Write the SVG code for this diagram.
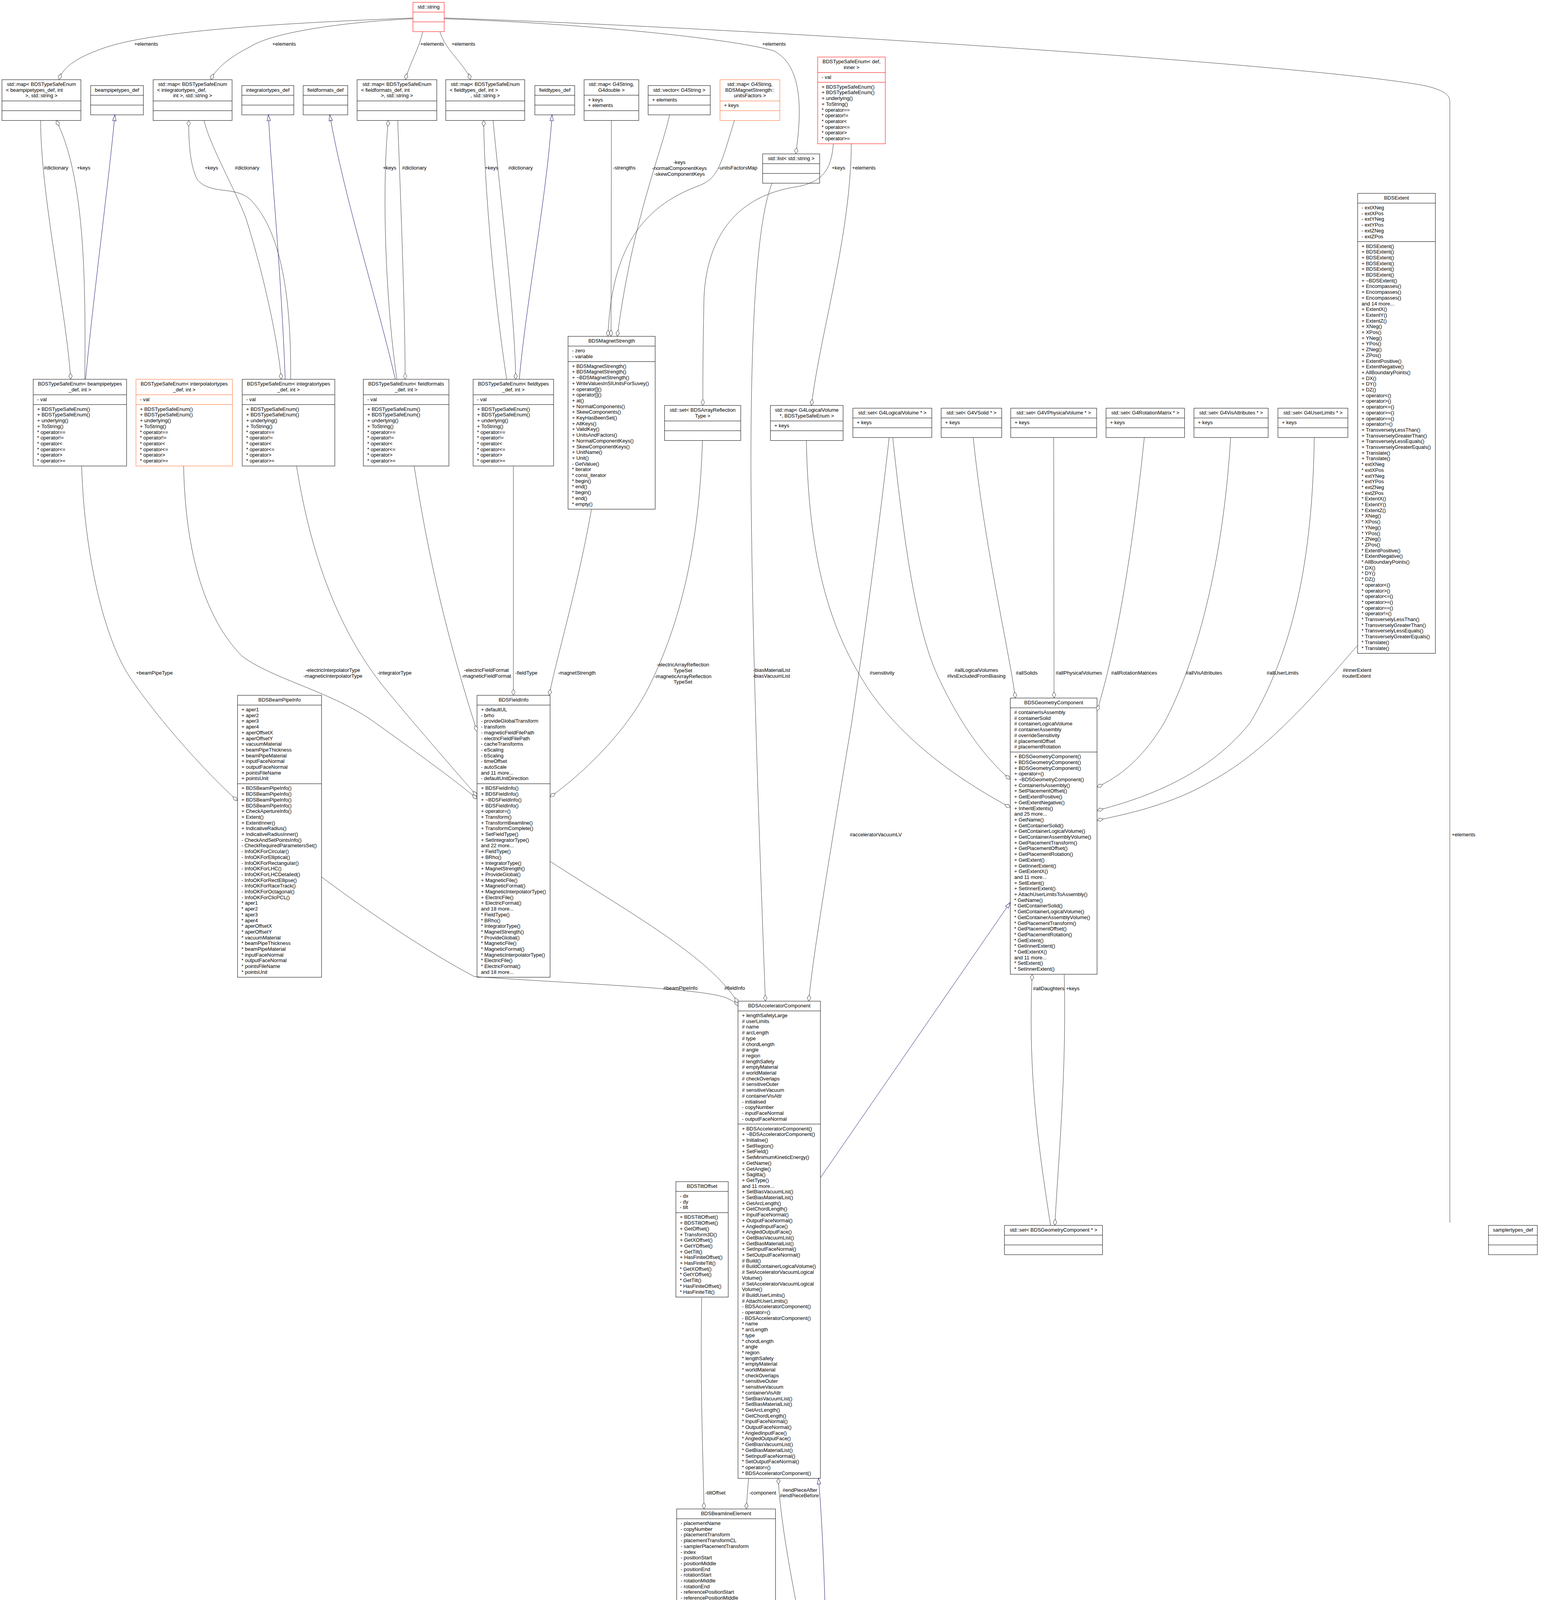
<svg xmlns="http://www.w3.org/2000/svg" width="3993" height="7761" viewBox="0 0 3993 7761">
<style>
text{font-family:"Liberation Sans",Arial,Helvetica,sans-serif;font-size:13px;fill:#000}
.c{text-anchor:middle}
.b{fill:#fff;stroke:#000;stroke-width:1}
.r{fill:#fff;stroke:#ff0000;stroke-width:1}
.o{fill:#fff;stroke:#ff6a2a;stroke-width:1}
.s{stroke:#000;stroke-width:1}
.sr{stroke:#ff0000;stroke-width:1}
.so{stroke:#ff6a2a;stroke-width:1}
.e{fill:none;stroke:#404040;stroke-width:1;marker-end:url(#d)}
.i{fill:none;stroke:#191970;stroke-width:1;marker-end:url(#t)}
.p{fill:none;stroke:#404040;stroke-width:1}
</style>
<defs>
<marker id="d" markerUnits="userSpaceOnUse" markerWidth="18" markerHeight="12" viewBox="-1 -1 18 12" refX="16" refY="5" orient="auto"><path d="M0,5 L8,0.5 L16,5 L8,9.5 Z" fill="#fff" stroke="#404040"/></marker>
<marker id="t" markerUnits="userSpaceOnUse" markerWidth="18" markerHeight="12" viewBox="-1 -1 18 12" refX="15" refY="5" orient="auto"><path d="M0,0.5 L15,5 L0,9.5 Z" fill="#fff" stroke="#191970"/></marker>
</defs>
<rect width="3993" height="7761" fill="#fff"/>

<g id="nodes">
<g id="std_string"><rect class="r" x="1057" y="6" width="80" height="75"/><line class="sr" x1="1057" y1="31" x2="1137" y2="31"/><line class="sr" x1="1057" y1="56" x2="1137" y2="56"/><text class="c" x="1097" y="22">std::string</text></g>

<g id="map_beampipetypes"><rect class="b" x="5" y="204" width="202" height="104.4"/><line class="s" x1="5" y1="258.4" x2="207" y2="258.4"/><line class="s" x1="5" y1="283.4" x2="207" y2="283.4"/><text class="c" x="106" y="220">std::map&lt; BDSTypeSafeEnum</text><text x="15" y="234.7">&lt; beampipetypes_def, int</text><text class="c" x="106" y="249.4">&gt;, std::string &gt;</text></g>
<g id="beampipetypes_def"><rect class="b" x="232" y="219" width="135" height="75"/><line class="s" x1="232" y1="244" x2="367" y2="244"/><line class="s" x1="232" y1="269" x2="367" y2="269"/><text class="c" x="299.5" y="235">beampipetypes_def</text></g>
<g id="map_integratortypes"><rect class="b" x="392" y="204" width="202" height="104.4"/><line class="s" x1="392" y1="258.4" x2="594" y2="258.4"/><line class="s" x1="392" y1="283.4" x2="594" y2="283.4"/><text class="c" x="493" y="220">std::map&lt; BDSTypeSafeEnum</text><text x="402" y="234.7">&lt; integratortypes_def,</text><text class="c" x="493" y="249.4">int &gt;, std::string &gt;</text></g>
<g id="integratortypes_def"><rect class="b" x="619" y="219" width="133" height="75"/><line class="s" x1="619" y1="244" x2="752" y2="244"/><line class="s" x1="619" y1="269" x2="752" y2="269"/><text class="c" x="685.5" y="235">integratortypes_def</text></g>
<g id="fieldformats_def"><rect class="b" x="776" y="219" width="114" height="75"/><line class="s" x1="776" y1="244" x2="890" y2="244"/><line class="s" x1="776" y1="269" x2="890" y2="269"/><text class="c" x="833" y="235">fieldformats_def</text></g>
<g id="map_fieldformats"><rect class="b" x="914" y="204" width="204" height="104.4"/><line class="s" x1="914" y1="258.4" x2="1118" y2="258.4"/><line class="s" x1="914" y1="283.4" x2="1118" y2="283.4"/><text class="c" x="1016" y="220">std::map&lt; BDSTypeSafeEnum</text><text x="924" y="234.7">&lt; fieldformats_def, int</text><text class="c" x="1016" y="249.4">&gt;, std::string &gt;</text></g>
<g id="map_fieldtypes"><rect class="b" x="1141" y="204" width="202" height="104.4"/><line class="s" x1="1141" y1="258.4" x2="1343" y2="258.4"/><line class="s" x1="1141" y1="283.4" x2="1343" y2="283.4"/><text class="c" x="1242" y="220">std::map&lt; BDSTypeSafeEnum</text><text x="1151" y="234.7">&lt; fieldtypes_def, int &gt;</text><text class="c" x="1242" y="249.4">, std::string &gt;</text></g>
<g id="fieldtypes_def"><rect class="b" x="1369" y="219" width="102" height="75"/><line class="s" x1="1369" y1="244" x2="1471" y2="244"/><line class="s" x1="1369" y1="269" x2="1471" y2="269"/><text class="c" x="1420" y="235">fieldtypes_def</text></g>
<g id="map_G4String_G4double"><rect class="b" x="1495" y="204" width="140" height="104.4"/><line class="s" x1="1495" y1="243.7" x2="1635" y2="243.7"/><line class="s" x1="1495" y1="283.4" x2="1635" y2="283.4"/><text class="c" x="1565" y="220">std::map&lt; G4String,</text><text class="c" x="1565" y="234.7">G4double &gt;</text><text x="1505" y="259.7">+ keys<tspan x="1505" dy="14.7">+ elements</tspan></text></g>
<g id="vector_G4String"><rect class="b" x="1659" y="219" width="159" height="75"/><line class="s" x1="1659" y1="244" x2="1818" y2="244"/><line class="s" x1="1659" y1="269" x2="1818" y2="269"/><text class="c" x="1738.5" y="235">std::vector&lt; G4String &gt;</text><text x="1669" y="260">+ elements</text></g>
<g id="map_G4String_unitsFactors"><rect class="o" x="1843" y="204" width="153" height="104.4"/><line class="so" x1="1843" y1="258.4" x2="1996" y2="258.4"/><line class="so" x1="1843" y1="283.4" x2="1996" y2="283.4"/><text class="c" x="1919.5" y="220">std::map&lt; G4String,</text><text class="c" x="1919.5" y="234.7">BDSMagnetStrength::</text><text class="c" x="1919.5" y="249.4">unitsFactors &gt;</text><text x="1853" y="274.4">+ keys</text></g>
<g id="BDSTypeSafeEnum_def_inner"><rect class="r" x="2093" y="146" width="173" height="222"/><line class="sr" x1="2093" y1="185.7" x2="2266" y2="185.7"/><line class="sr" x1="2093" y1="210.7" x2="2266" y2="210.7"/><text class="c" x="2179.5" y="162">BDSTypeSafeEnum&lt; def,</text><text class="c" x="2179.5" y="176.7">inner &gt;</text><text x="2103" y="201.7">- val</text><text x="2103" y="226.7">+ BDSTypeSafeEnum()<tspan x="2103" dy="14.7">+ BDSTypeSafeEnum()</tspan><tspan x="2103" dy="14.7">+ underlying()</tspan><tspan x="2103" dy="14.7">+ ToString()</tspan><tspan x="2103" dy="14.7">* operator==</tspan><tspan x="2103" dy="14.7">* operator!=</tspan><tspan x="2103" dy="14.7">* operator&lt;</tspan><tspan x="2103" dy="14.7">* operator&lt;=</tspan><tspan x="2103" dy="14.7">* operator&gt;</tspan><tspan x="2103" dy="14.7">* operator&gt;=</tspan></text></g>
<g id="list_std_string"><rect class="b" x="1952" y="394" width="146" height="75"/><line class="s" x1="1952" y1="419" x2="2098" y2="419"/><line class="s" x1="1952" y1="444" x2="2098" y2="444"/><text class="c" x="2025" y="410">std::list&lt; std::string &gt;</text></g>

<g id="BDSExtent"><rect class="b" x="3475" y="495" width="199" height="1177.5"/><line class="s" x1="3475" y1="520" x2="3674" y2="520"/><line class="s" x1="3475" y1="618.5" x2="3674" y2="618.5"/><text class="c" x="3574.5" y="511">BDSExtent</text><text x="3485" y="536">- extXNeg<tspan x="3485" dy="14.7">- extXPos</tspan><tspan x="3485" dy="14.7">- extYNeg</tspan><tspan x="3485" dy="14.7">- extYPos</tspan><tspan x="3485" dy="14.7">- extZNeg</tspan><tspan x="3485" dy="14.7">- extZPos</tspan></text><text x="3485" y="634.5">+ BDSExtent()<tspan x="3485" dy="14.7">+ BDSExtent()</tspan><tspan x="3485" dy="14.7">+ BDSExtent()</tspan><tspan x="3485" dy="14.7">+ BDSExtent()</tspan><tspan x="3485" dy="14.7">+ BDSExtent()</tspan><tspan x="3485" dy="14.7">+ BDSExtent()</tspan><tspan x="3485" dy="14.7">+ ~BDSExtent()</tspan><tspan x="3485" dy="14.7">+ Encompasses()</tspan><tspan x="3485" dy="14.7">+ Encompasses()</tspan><tspan x="3485" dy="14.7">+ Encompasses()</tspan><tspan x="3485" dy="14.7">and 14 more...</tspan><tspan x="3485" dy="14.7">+ ExtentX()</tspan><tspan x="3485" dy="14.7">+ ExtentY()</tspan><tspan x="3485" dy="14.7">+ ExtentZ()</tspan><tspan x="3485" dy="14.7">+ XNeg()</tspan><tspan x="3485" dy="14.7">+ XPos()</tspan><tspan x="3485" dy="14.7">+ YNeg()</tspan><tspan x="3485" dy="14.7">+ YPos()</tspan><tspan x="3485" dy="14.7">+ ZNeg()</tspan><tspan x="3485" dy="14.7">+ ZPos()</tspan><tspan x="3485" dy="14.7">+ ExtentPositive()</tspan><tspan x="3485" dy="14.7">+ ExtentNegative()</tspan><tspan x="3485" dy="14.7">+ AllBoundaryPoints()</tspan><tspan x="3485" dy="14.7">+ DX()</tspan><tspan x="3485" dy="14.7">+ DY()</tspan><tspan x="3485" dy="14.7">+ DZ()</tspan><tspan x="3485" dy="14.7">+ operator&lt;()</tspan><tspan x="3485" dy="14.7">+ operator&gt;()</tspan><tspan x="3485" dy="14.7">+ operator&lt;=()</tspan><tspan x="3485" dy="14.7">+ operator&gt;=()</tspan><tspan x="3485" dy="14.7">+ operator==()</tspan><tspan x="3485" dy="14.7">+ operator!=()</tspan><tspan x="3485" dy="14.7">+ TransverselyLessThan()</tspan><tspan x="3485" dy="14.7">+ TransverselyGreaterThan()</tspan><tspan x="3485" dy="14.7">+ TransverselyLessEquals()</tspan><tspan x="3485" dy="14.7">+ TransverselyGreaterEquals()</tspan><tspan x="3485" dy="14.7">+ Translate()</tspan><tspan x="3485" dy="14.7">+ Translate()</tspan><tspan x="3485" dy="14.7">* extXNeg</tspan><tspan x="3485" dy="14.7">* extXPos</tspan><tspan x="3485" dy="14.7">* extYNeg</tspan><tspan x="3485" dy="14.7">* extYPos</tspan><tspan x="3485" dy="14.7">* extZNeg</tspan><tspan x="3485" dy="14.7">* extZPos</tspan><tspan x="3485" dy="14.7">* ExtentX()</tspan><tspan x="3485" dy="14.7">* ExtentY()</tspan><tspan x="3485" dy="14.7">* ExtentZ()</tspan><tspan x="3485" dy="14.7">* XNeg()</tspan><tspan x="3485" dy="14.7">* XPos()</tspan><tspan x="3485" dy="14.7">* YNeg()</tspan><tspan x="3485" dy="14.7">* YPos()</tspan><tspan x="3485" dy="14.7">* ZNeg()</tspan><tspan x="3485" dy="14.7">* ZPos()</tspan><tspan x="3485" dy="14.7">* ExtentPositive()</tspan><tspan x="3485" dy="14.7">* ExtentNegative()</tspan><tspan x="3485" dy="14.7">* AllBoundaryPoints()</tspan><tspan x="3485" dy="14.7">* DX()</tspan><tspan x="3485" dy="14.7">* DY()</tspan><tspan x="3485" dy="14.7">* DZ()</tspan><tspan x="3485" dy="14.7">* operator&lt;()</tspan><tspan x="3485" dy="14.7">* operator&gt;()</tspan><tspan x="3485" dy="14.7">* operator&lt;=()</tspan><tspan x="3485" dy="14.7">* operator&gt;=()</tspan><tspan x="3485" dy="14.7">* operator==()</tspan><tspan x="3485" dy="14.7">* operator!=()</tspan><tspan x="3485" dy="14.7">* TransverselyLessThan()</tspan><tspan x="3485" dy="14.7">* TransverselyGreaterThan()</tspan><tspan x="3485" dy="14.7">* TransverselyLessEquals()</tspan><tspan x="3485" dy="14.7">* TransverselyGreaterEquals()</tspan><tspan x="3485" dy="14.7">* Translate()</tspan><tspan x="3485" dy="14.7">* Translate()</tspan></text></g>

<g id="TSE_beampipetypes"><rect class="b" x="85" y="971" width="239" height="222"/><line class="s" x1="85" y1="1010.7" x2="324" y2="1010.7"/><line class="s" x1="85" y1="1035.7" x2="324" y2="1035.7"/><text class="c" x="204.5" y="987">BDSTypeSafeEnum&lt; beampipetypes</text><text class="c" x="204.5" y="1001.7">_def, int &gt;</text><text x="95" y="1026.7">- val</text><text x="95" y="1051.7">+ BDSTypeSafeEnum()<tspan x="95" dy="14.7">+ BDSTypeSafeEnum()</tspan><tspan x="95" dy="14.7">+ underlying()</tspan><tspan x="95" dy="14.7">+ ToString()</tspan><tspan x="95" dy="14.7">* operator==</tspan><tspan x="95" dy="14.7">* operator!=</tspan><tspan x="95" dy="14.7">* operator&lt;</tspan><tspan x="95" dy="14.7">* operator&lt;=</tspan><tspan x="95" dy="14.7">* operator&gt;</tspan><tspan x="95" dy="14.7">* operator&gt;=</tspan></text></g>
<g id="TSE_interpolatortypes"><rect class="o" x="348" y="971" width="247" height="222"/><line class="so" x1="348" y1="1010.7" x2="595" y2="1010.7"/><line class="so" x1="348" y1="1035.7" x2="595" y2="1035.7"/><text class="c" x="471.5" y="987">BDSTypeSafeEnum&lt; interpolatortypes</text><text class="c" x="471.5" y="1001.7">_def, int &gt;</text><text x="358" y="1026.7">- val</text><text x="358" y="1051.7">+ BDSTypeSafeEnum()<tspan x="358" dy="14.7">+ BDSTypeSafeEnum()</tspan><tspan x="358" dy="14.7">+ underlying()</tspan><tspan x="358" dy="14.7">+ ToString()</tspan><tspan x="358" dy="14.7">* operator==</tspan><tspan x="358" dy="14.7">* operator!=</tspan><tspan x="358" dy="14.7">* operator&lt;</tspan><tspan x="358" dy="14.7">* operator&lt;=</tspan><tspan x="358" dy="14.7">* operator&gt;</tspan><tspan x="358" dy="14.7">* operator&gt;=</tspan></text></g>
<g id="TSE_integratortypes"><rect class="b" x="620" y="971" width="237" height="222"/><line class="s" x1="620" y1="1010.7" x2="857" y2="1010.7"/><line class="s" x1="620" y1="1035.7" x2="857" y2="1035.7"/><text class="c" x="738.5" y="987">BDSTypeSafeEnum&lt; integratortypes</text><text class="c" x="738.5" y="1001.7">_def, int &gt;</text><text x="630" y="1026.7">- val</text><text x="630" y="1051.7">+ BDSTypeSafeEnum()<tspan x="630" dy="14.7">+ BDSTypeSafeEnum()</tspan><tspan x="630" dy="14.7">+ underlying()</tspan><tspan x="630" dy="14.7">+ ToString()</tspan><tspan x="630" dy="14.7">* operator==</tspan><tspan x="630" dy="14.7">* operator!=</tspan><tspan x="630" dy="14.7">* operator&lt;</tspan><tspan x="630" dy="14.7">* operator&lt;=</tspan><tspan x="630" dy="14.7">* operator&gt;</tspan><tspan x="630" dy="14.7">* operator&gt;=</tspan></text></g>
<g id="TSE_fieldformats"><rect class="b" x="930" y="971" width="219" height="222"/><line class="s" x1="930" y1="1010.7" x2="1149" y2="1010.7"/><line class="s" x1="930" y1="1035.7" x2="1149" y2="1035.7"/><text class="c" x="1039.5" y="987">BDSTypeSafeEnum&lt; fieldformats</text><text class="c" x="1039.5" y="1001.7">_def, int &gt;</text><text x="940" y="1026.7">- val</text><text x="940" y="1051.7">+ BDSTypeSafeEnum()<tspan x="940" dy="14.7">+ BDSTypeSafeEnum()</tspan><tspan x="940" dy="14.7">+ underlying()</tspan><tspan x="940" dy="14.7">+ ToString()</tspan><tspan x="940" dy="14.7">* operator==</tspan><tspan x="940" dy="14.7">* operator!=</tspan><tspan x="940" dy="14.7">* operator&lt;</tspan><tspan x="940" dy="14.7">* operator&lt;=</tspan><tspan x="940" dy="14.7">* operator&gt;</tspan><tspan x="940" dy="14.7">* operator&gt;=</tspan></text></g>
<g id="TSE_fieldtypes"><rect class="b" x="1211" y="971" width="206" height="222"/><line class="s" x1="1211" y1="1010.7" x2="1417" y2="1010.7"/><line class="s" x1="1211" y1="1035.7" x2="1417" y2="1035.7"/><text class="c" x="1314" y="987">BDSTypeSafeEnum&lt; fieldtypes</text><text class="c" x="1314" y="1001.7">_def, int &gt;</text><text x="1221" y="1026.7">- val</text><text x="1221" y="1051.7">+ BDSTypeSafeEnum()<tspan x="1221" dy="14.7">+ BDSTypeSafeEnum()</tspan><tspan x="1221" dy="14.7">+ underlying()</tspan><tspan x="1221" dy="14.7">+ ToString()</tspan><tspan x="1221" dy="14.7">* operator==</tspan><tspan x="1221" dy="14.7">* operator!=</tspan><tspan x="1221" dy="14.7">* operator&lt;</tspan><tspan x="1221" dy="14.7">* operator&lt;=</tspan><tspan x="1221" dy="14.7">* operator&gt;</tspan><tspan x="1221" dy="14.7">* operator&gt;=</tspan></text></g>

<g id="BDSMagnetStrength"><rect class="b" x="1454" y="861" width="223" height="442.5"/><line class="s" x1="1454" y1="886" x2="1677" y2="886"/><line class="s" x1="1454" y1="925.7" x2="1677" y2="925.7"/><text class="c" x="1565.5" y="877">BDSMagnetStrength</text><text x="1464" y="902">- zero<tspan x="1464" dy="14.7">- variable</tspan></text><text x="1464" y="941.7">+ BDSMagnetStrength()<tspan x="1464" dy="14.7">+ BDSMagnetStrength()</tspan><tspan x="1464" dy="14.7">+ ~BDSMagnetStrength()</tspan><tspan x="1464" dy="14.7">+ WriteValuesInSIUnitsForSuvey()</tspan><tspan x="1464" dy="14.7">+ operator[]()</tspan><tspan x="1464" dy="14.7">+ operator[]()</tspan><tspan x="1464" dy="14.7">+ at()</tspan><tspan x="1464" dy="14.7">+ NormalComponents()</tspan><tspan x="1464" dy="14.7">+ SkewComponents()</tspan><tspan x="1464" dy="14.7">+ KeyHasBeenSet()</tspan><tspan x="1464" dy="14.7">+ AllKeys()</tspan><tspan x="1464" dy="14.7">+ ValidKey()</tspan><tspan x="1464" dy="14.7">+ UnitsAndFactors()</tspan><tspan x="1464" dy="14.7">+ NormalComponentKeys()</tspan><tspan x="1464" dy="14.7">+ SkewComponentKeys()</tspan><tspan x="1464" dy="14.7">+ UnitName()</tspan><tspan x="1464" dy="14.7">+ Unit()</tspan><tspan x="1464" dy="14.7">- GetValue()</tspan><tspan x="1464" dy="14.7">* iterator</tspan><tspan x="1464" dy="14.7">* const_iterator</tspan><tspan x="1464" dy="14.7">* begin()</tspan><tspan x="1464" dy="14.7">* end()</tspan><tspan x="1464" dy="14.7">* begin()</tspan><tspan x="1464" dy="14.7">* end()</tspan><tspan x="1464" dy="14.7">* empty()</tspan></text></g>
<g id="set_BDSArrayReflectionType"><rect class="b" x="1701" y="1038" width="195" height="89.7"/><line class="s" x1="1701" y1="1077.7" x2="1896" y2="1077.7"/><line class="s" x1="1701" y1="1102.7" x2="1896" y2="1102.7"/><text class="c" x="1798.5" y="1054">std::set&lt; BDSArrayReflection</text><text class="c" x="1798.5" y="1068.7">Type &gt;</text></g>
<g id="map_G4LogicalVolume_BDSTypeSafeEnum"><rect class="b" x="1972" y="1038" width="186" height="89.7"/><line class="s" x1="1972" y1="1077.7" x2="2158" y2="1077.7"/><line class="s" x1="1972" y1="1102.7" x2="2158" y2="1102.7"/><text class="c" x="2065" y="1054">std::map&lt; G4LogicalVolume</text><text class="c" x="2065" y="1068.7">*, BDSTypeSafeEnum &gt;</text><text x="1982" y="1093.7">+ keys</text></g>
<g id="set_G4LogicalVolume"><rect class="b" x="2183" y="1045" width="202" height="75"/><line class="s" x1="2183" y1="1070" x2="2385" y2="1070"/><line class="s" x1="2183" y1="1095" x2="2385" y2="1095"/><text class="c" x="2284" y="1061">std::set&lt; G4LogicalVolume * &gt;</text><text x="2193" y="1086">+ keys</text></g>
<g id="set_G4VSolid"><rect class="b" x="2409" y="1045" width="155" height="75"/><line class="s" x1="2409" y1="1070" x2="2564" y2="1070"/><line class="s" x1="2409" y1="1095" x2="2564" y2="1095"/><text class="c" x="2486.5" y="1061">std::set&lt; G4VSolid * &gt;</text><text x="2419" y="1086">+ keys</text></g>
<g id="set_G4VPhysicalVolume"><rect class="b" x="2587" y="1045" width="220" height="75"/><line class="s" x1="2587" y1="1070" x2="2807" y2="1070"/><line class="s" x1="2587" y1="1095" x2="2807" y2="1095"/><text class="c" x="2697" y="1061">std::set&lt; G4VPhysicalVolume * &gt;</text><text x="2597" y="1086">+ keys</text></g>
<g id="set_G4RotationMatrix"><rect class="b" x="2831" y="1045" width="201" height="75"/><line class="s" x1="2831" y1="1070" x2="3032" y2="1070"/><line class="s" x1="2831" y1="1095" x2="3032" y2="1095"/><text class="c" x="2931.5" y="1061">std::set&lt; G4RotationMatrix * &gt;</text><text x="2841" y="1086">+ keys</text></g>
<g id="set_G4VisAttributes"><rect class="b" x="3056" y="1045" width="190" height="75"/><line class="s" x1="3056" y1="1070" x2="3246" y2="1070"/><line class="s" x1="3056" y1="1095" x2="3246" y2="1095"/><text class="c" x="3151" y="1061">std::set&lt; G4VisAttributes * &gt;</text><text x="3066" y="1086">+ keys</text></g>
<g id="set_G4UserLimits"><rect class="b" x="3271" y="1045" width="179" height="75"/><line class="s" x1="3271" y1="1070" x2="3450" y2="1070"/><line class="s" x1="3271" y1="1095" x2="3450" y2="1095"/><text class="c" x="3360.5" y="1061">std::set&lt; G4UserLimits * &gt;</text><text x="3281" y="1086">+ keys</text></g>

<g id="BDSBeamPipeInfo"><rect class="b" x="608" y="1780" width="215" height="721.8"/><line class="s" x1="608" y1="1805" x2="823" y2="1805"/><line class="s" x1="608" y1="2006.4" x2="823" y2="2006.4"/><text class="c" x="715.5" y="1796">BDSBeamPipeInfo</text><text x="618" y="1821">+ aper1<tspan x="618" dy="14.7">+ aper2</tspan><tspan x="618" dy="14.7">+ aper3</tspan><tspan x="618" dy="14.7">+ aper4</tspan><tspan x="618" dy="14.7">+ aperOffsetX</tspan><tspan x="618" dy="14.7">+ aperOffsetY</tspan><tspan x="618" dy="14.7">+ vacuumMaterial</tspan><tspan x="618" dy="14.7">+ beamPipeThickness</tspan><tspan x="618" dy="14.7">+ beamPipeMaterial</tspan><tspan x="618" dy="14.7">+ inputFaceNormal</tspan><tspan x="618" dy="14.7">+ outputFaceNormal</tspan><tspan x="618" dy="14.7">+ pointsFileName</tspan><tspan x="618" dy="14.7">+ pointsUnit</tspan></text><text x="618" y="2022.4">+ BDSBeamPipeInfo()<tspan x="618" dy="14.7">+ BDSBeamPipeInfo()</tspan><tspan x="618" dy="14.7">+ BDSBeamPipeInfo()</tspan><tspan x="618" dy="14.7">+ BDSBeamPipeInfo()</tspan><tspan x="618" dy="14.7">+ CheckApertureInfo()</tspan><tspan x="618" dy="14.7">+ Extent()</tspan><tspan x="618" dy="14.7">+ ExtentInner()</tspan><tspan x="618" dy="14.7">+ IndicativeRadius()</tspan><tspan x="618" dy="14.7">+ IndicativeRadiusInner()</tspan><tspan x="618" dy="14.7">- CheckAndSetPointsInfo()</tspan><tspan x="618" dy="14.7">- CheckRequiredParametersSet()</tspan><tspan x="618" dy="14.7">- InfoOKForCircular()</tspan><tspan x="618" dy="14.7">- InfoOKForElliptical()</tspan><tspan x="618" dy="14.7">- InfoOKForRectangular()</tspan><tspan x="618" dy="14.7">- InfoOKForLHC()</tspan><tspan x="618" dy="14.7">- InfoOKForLHCDetailed()</tspan><tspan x="618" dy="14.7">- InfoOKForRectEllipse()</tspan><tspan x="618" dy="14.7">- InfoOKForRaceTrack()</tspan><tspan x="618" dy="14.7">- InfoOKForOctagonal()</tspan><tspan x="618" dy="14.7">- InfoOKForClicPCL()</tspan><tspan x="618" dy="14.7">* aper1</tspan><tspan x="618" dy="14.7">* aper2</tspan><tspan x="618" dy="14.7">* aper3</tspan><tspan x="618" dy="14.7">* aper4</tspan><tspan x="618" dy="14.7">* aperOffsetX</tspan><tspan x="618" dy="14.7">* aperOffsetY</tspan><tspan x="618" dy="14.7">* vacuumMaterial</tspan><tspan x="618" dy="14.7">* beamPipeThickness</tspan><tspan x="618" dy="14.7">* beamPipeMaterial</tspan><tspan x="618" dy="14.7">* inputFaceNormal</tspan><tspan x="618" dy="14.7">* outputFaceNormal</tspan><tspan x="618" dy="14.7">* pointsFileName</tspan><tspan x="618" dy="14.7">* pointsUnit</tspan></text></g>

<g id="BDSFieldInfo"><rect class="b" x="1221" y="1780" width="187" height="721.8"/><line class="s" x1="1221" y1="1805" x2="1408" y2="1805"/><line class="s" x1="1221" y1="2006.4" x2="1408" y2="2006.4"/><text class="c" x="1314.5" y="1796">BDSFieldInfo</text><text x="1231" y="1821">+ defaultUL<tspan x="1231" dy="14.7">- brho</tspan><tspan x="1231" dy="14.7">- provideGlobalTransform</tspan><tspan x="1231" dy="14.7">- transform</tspan><tspan x="1231" dy="14.7">- magneticFieldFilePath</tspan><tspan x="1231" dy="14.7">- electricFieldFilePath</tspan><tspan x="1231" dy="14.7">- cacheTransforms</tspan><tspan x="1231" dy="14.7">- eScaling</tspan><tspan x="1231" dy="14.7">- bScaling</tspan><tspan x="1231" dy="14.7">- timeOffset</tspan><tspan x="1231" dy="14.7">- autoScale</tspan><tspan x="1231" dy="14.7">and 11 more...</tspan><tspan x="1231" dy="14.7">- defaultUnitDirection</tspan></text><text x="1231" y="2022.4">+ BDSFieldInfo()<tspan x="1231" dy="14.7">+ BDSFieldInfo()</tspan><tspan x="1231" dy="14.7">+ ~BDSFieldInfo()</tspan><tspan x="1231" dy="14.7">+ BDSFieldInfo()</tspan><tspan x="1231" dy="14.7">+ operator=()</tspan><tspan x="1231" dy="14.7">+ Transform()</tspan><tspan x="1231" dy="14.7">+ TransformBeamline()</tspan><tspan x="1231" dy="14.7">+ TransformComplete()</tspan><tspan x="1231" dy="14.7">+ SetFieldType()</tspan><tspan x="1231" dy="14.7">+ SetIntegratorType()</tspan><tspan x="1231" dy="14.7">and 22 more...</tspan><tspan x="1231" dy="14.7">+ FieldType()</tspan><tspan x="1231" dy="14.7">+ BRho()</tspan><tspan x="1231" dy="14.7">+ IntegratorType()</tspan><tspan x="1231" dy="14.7">+ MagnetStrength()</tspan><tspan x="1231" dy="14.7">+ ProvideGlobal()</tspan><tspan x="1231" dy="14.7">+ MagneticFile()</tspan><tspan x="1231" dy="14.7">+ MagneticFormat()</tspan><tspan x="1231" dy="14.7">+ MagneticInterpolatorType()</tspan><tspan x="1231" dy="14.7">+ ElectricFile()</tspan><tspan x="1231" dy="14.7">+ ElectricFormat()</tspan><tspan x="1231" dy="14.7">and 18 more...</tspan><tspan x="1231" dy="14.7">* FieldType()</tspan><tspan x="1231" dy="14.7">* BRho()</tspan><tspan x="1231" dy="14.7">* IntegratorType()</tspan><tspan x="1231" dy="14.7">* MagnetStrength()</tspan><tspan x="1231" dy="14.7">* ProvideGlobal()</tspan><tspan x="1231" dy="14.7">* MagneticFile()</tspan><tspan x="1231" dy="14.7">* MagneticFormat()</tspan><tspan x="1231" dy="14.7">* MagneticInterpolatorType()</tspan><tspan x="1231" dy="14.7">* ElectricFile()</tspan><tspan x="1231" dy="14.7">* ElectricFormat()</tspan><tspan x="1231" dy="14.7">and 18 more...</tspan></text></g>

<g id="BDSGeometryComponent"><rect class="b" x="2586" y="1787" width="222" height="707.1"/><line class="s" x1="2586" y1="1812" x2="2808" y2="1812"/><line class="s" x1="2586" y1="1925.2" x2="2808" y2="1925.2"/><text class="c" x="2697" y="1803">BDSGeometryComponent</text><text x="2596" y="1828"># containerIsAssembly<tspan x="2596" dy="14.7"># containerSolid</tspan><tspan x="2596" dy="14.7"># containerLogicalVolume</tspan><tspan x="2596" dy="14.7"># containerAssembly</tspan><tspan x="2596" dy="14.7"># overrideSensitivity</tspan><tspan x="2596" dy="14.7"># placementOffset</tspan><tspan x="2596" dy="14.7"># placementRotation</tspan></text><text x="2596" y="1941.2">+ BDSGeometryComponent()<tspan x="2596" dy="14.7">+ BDSGeometryComponent()</tspan><tspan x="2596" dy="14.7">+ BDSGeometryComponent()</tspan><tspan x="2596" dy="14.7">+ operator=()</tspan><tspan x="2596" dy="14.7">+ ~BDSGeometryComponent()</tspan><tspan x="2596" dy="14.7">+ ContainerIsAssembly()</tspan><tspan x="2596" dy="14.7">+ SetPlacementOffset()</tspan><tspan x="2596" dy="14.7">+ GetExtentPositive()</tspan><tspan x="2596" dy="14.7">+ GetExtentNegative()</tspan><tspan x="2596" dy="14.7">+ InheritExtents()</tspan><tspan x="2596" dy="14.7">and 25 more...</tspan><tspan x="2596" dy="14.7">+ GetName()</tspan><tspan x="2596" dy="14.7">+ GetContainerSolid()</tspan><tspan x="2596" dy="14.7">+ GetContainerLogicalVolume()</tspan><tspan x="2596" dy="14.7">+ GetContainerAssemblyVolume()</tspan><tspan x="2596" dy="14.7">+ GetPlacementTransform()</tspan><tspan x="2596" dy="14.7">+ GetPlacementOffset()</tspan><tspan x="2596" dy="14.7">+ GetPlacementRotation()</tspan><tspan x="2596" dy="14.7">+ GetExtent()</tspan><tspan x="2596" dy="14.7">+ GetInnerExtent()</tspan><tspan x="2596" dy="14.7">+ GetExtentX()</tspan><tspan x="2596" dy="14.7">and 11 more...</tspan><tspan x="2596" dy="14.7">+ SetExtent()</tspan><tspan x="2596" dy="14.7">+ SetInnerExtent()</tspan><tspan x="2596" dy="14.7">+ AttachUserLimitsToAssembly()</tspan><tspan x="2596" dy="14.7">* GetName()</tspan><tspan x="2596" dy="14.7">* GetContainerSolid()</tspan><tspan x="2596" dy="14.7">* GetContainerLogicalVolume()</tspan><tspan x="2596" dy="14.7">* GetContainerAssemblyVolume()</tspan><tspan x="2596" dy="14.7">* GetPlacementTransform()</tspan><tspan x="2596" dy="14.7">* GetPlacementOffset()</tspan><tspan x="2596" dy="14.7">* GetPlacementRotation()</tspan><tspan x="2596" dy="14.7">* GetExtent()</tspan><tspan x="2596" dy="14.7">* GetInnerExtent()</tspan><tspan x="2596" dy="14.7">* GetExtentX()</tspan><tspan x="2596" dy="14.7">and 11 more...</tspan><tspan x="2596" dy="14.7">* SetExtent()</tspan><tspan x="2596" dy="14.7">* SetInnerExtent()</tspan></text></g>

<g id="BDSAcceleratorComponent"><rect class="b" x="1889" y="2563" width="211" height="1221.6"/><line class="s" x1="1889" y1="2588" x2="2100" y2="2588"/><line class="s" x1="1889" y1="2877.6" x2="2100" y2="2877.6"/><text class="c" x="1994.5" y="2579">BDSAcceleratorComponent</text><text x="1899" y="2604">+ lengthSafetyLarge<tspan x="1899" dy="14.7"># userLimits</tspan><tspan x="1899" dy="14.7"># name</tspan><tspan x="1899" dy="14.7"># arcLength</tspan><tspan x="1899" dy="14.7"># type</tspan><tspan x="1899" dy="14.7"># chordLength</tspan><tspan x="1899" dy="14.7"># angle</tspan><tspan x="1899" dy="14.7"># region</tspan><tspan x="1899" dy="14.7"># lengthSafety</tspan><tspan x="1899" dy="14.7"># emptyMaterial</tspan><tspan x="1899" dy="14.7"># worldMaterial</tspan><tspan x="1899" dy="14.7"># checkOverlaps</tspan><tspan x="1899" dy="14.7"># sensitiveOuter</tspan><tspan x="1899" dy="14.7"># sensitiveVacuum</tspan><tspan x="1899" dy="14.7"># containerVisAttr</tspan><tspan x="1899" dy="14.7">- initialised</tspan><tspan x="1899" dy="14.7">- copyNumber</tspan><tspan x="1899" dy="14.7">- inputFaceNormal</tspan><tspan x="1899" dy="14.7">- outputFaceNormal</tspan></text><text x="1899" y="2893.6">+ BDSAcceleratorComponent()<tspan x="1899" dy="14.7">+ ~BDSAcceleratorComponent()</tspan><tspan x="1899" dy="14.7">+ Initialise()</tspan><tspan x="1899" dy="14.7">+ SetRegion()</tspan><tspan x="1899" dy="14.7">+ SetField()</tspan><tspan x="1899" dy="14.7">+ SetMinimumKineticEnergy()</tspan><tspan x="1899" dy="14.7">+ GetName()</tspan><tspan x="1899" dy="14.7">+ GetAngle()</tspan><tspan x="1899" dy="14.7">+ Sagitta()</tspan><tspan x="1899" dy="14.7">+ GetType()</tspan><tspan x="1899" dy="14.7">and 11 more...</tspan><tspan x="1899" dy="14.7">+ SetBiasVacuumList()</tspan><tspan x="1899" dy="14.7">+ SetBiasMaterialList()</tspan><tspan x="1899" dy="14.7">+ GetArcLength()</tspan><tspan x="1899" dy="14.7">+ GetChordLength()</tspan><tspan x="1899" dy="14.7">+ InputFaceNormal()</tspan><tspan x="1899" dy="14.7">+ OutputFaceNormal()</tspan><tspan x="1899" dy="14.7">+ AngledInputFace()</tspan><tspan x="1899" dy="14.7">+ AngledOutputFace()</tspan><tspan x="1899" dy="14.7">+ GetBiasVacuumList()</tspan><tspan x="1899" dy="14.7">+ GetBiasMaterialList()</tspan><tspan x="1899" dy="14.7">+ SetInputFaceNormal()</tspan><tspan x="1899" dy="14.7">+ SetOutputFaceNormal()</tspan><tspan x="1899" dy="14.7"># Build()</tspan><tspan x="1899" dy="14.7"># BuildContainerLogicalVolume()</tspan><tspan x="1899" dy="14.7"># SetAcceleratorVacuumLogical</tspan><tspan x="1899" dy="14.7">Volume()</tspan><tspan x="1899" dy="14.7"># SetAcceleratorVacuumLogical</tspan><tspan x="1899" dy="14.7">Volume()</tspan><tspan x="1899" dy="14.7"># BuildUserLimits()</tspan><tspan x="1899" dy="14.7"># AttachUserLimits()</tspan><tspan x="1899" dy="14.7">- BDSAcceleratorComponent()</tspan><tspan x="1899" dy="14.7">- operator=()</tspan><tspan x="1899" dy="14.7">- BDSAcceleratorComponent()</tspan><tspan x="1899" dy="14.7">* name</tspan><tspan x="1899" dy="14.7">* arcLength</tspan><tspan x="1899" dy="14.7">* type</tspan><tspan x="1899" dy="14.7">* chordLength</tspan><tspan x="1899" dy="14.7">* angle</tspan><tspan x="1899" dy="14.7">* region</tspan><tspan x="1899" dy="14.7">* lengthSafety</tspan><tspan x="1899" dy="14.7">* emptyMaterial</tspan><tspan x="1899" dy="14.7">* worldMaterial</tspan><tspan x="1899" dy="14.7">* checkOverlaps</tspan><tspan x="1899" dy="14.7">* sensitiveOuter</tspan><tspan x="1899" dy="14.7">* sensitiveVacuum</tspan><tspan x="1899" dy="14.7">* containerVisAttr</tspan><tspan x="1899" dy="14.7">* SetBiasVacuumList()</tspan><tspan x="1899" dy="14.7">* SetBiasMaterialList()</tspan><tspan x="1899" dy="14.7">* GetArcLength()</tspan><tspan x="1899" dy="14.7">* GetChordLength()</tspan><tspan x="1899" dy="14.7">* InputFaceNormal()</tspan><tspan x="1899" dy="14.7">* OutputFaceNormal()</tspan><tspan x="1899" dy="14.7">* AngledInputFace()</tspan><tspan x="1899" dy="14.7">* AngledOutputFace()</tspan><tspan x="1899" dy="14.7">* GetBiasVacuumList()</tspan><tspan x="1899" dy="14.7">* GetBiasMaterialList()</tspan><tspan x="1899" dy="14.7">* SetInputFaceNormal()</tspan><tspan x="1899" dy="14.7">* SetOutputFaceNormal()</tspan><tspan x="1899" dy="14.7">* operator=()</tspan><tspan x="1899" dy="14.7">* BDSAcceleratorComponent()</tspan></text></g>

<g id="BDSTiltOffset"><rect class="b" x="1730" y="3025" width="134" height="295.5"/><line class="s" x1="1730" y1="3050" x2="1864" y2="3050"/><line class="s" x1="1730" y1="3104.4" x2="1864" y2="3104.4"/><text class="c" x="1797" y="3041">BDSTiltOffset</text><text x="1740" y="3066">- dx<tspan x="1740" dy="14.7">- dy</tspan><tspan x="1740" dy="14.7">- tilt</tspan></text><text x="1740" y="3120.4">+ BDSTiltOffset()<tspan x="1740" dy="14.7">+ BDSTiltOffset()</tspan><tspan x="1740" dy="14.7">+ GetOffset()</tspan><tspan x="1740" dy="14.7">+ Transform3D()</tspan><tspan x="1740" dy="14.7">+ GetXOffset()</tspan><tspan x="1740" dy="14.7">+ GetYOffset()</tspan><tspan x="1740" dy="14.7">+ GetTilt()</tspan><tspan x="1740" dy="14.7">+ HasFiniteOffset()</tspan><tspan x="1740" dy="14.7">+ HasFiniteTilt()</tspan><tspan x="1740" dy="14.7">* GetXOffset()</tspan><tspan x="1740" dy="14.7">* GetYOffset()</tspan><tspan x="1740" dy="14.7">* GetTilt()</tspan><tspan x="1740" dy="14.7">* HasFiniteOffset()</tspan><tspan x="1740" dy="14.7">* HasFiniteTilt()</tspan></text></g>

<g id="set_BDSGeometryComponent"><rect class="b" x="2571" y="3137" width="251" height="75"/><line class="s" x1="2571" y1="3162" x2="2822" y2="3162"/><line class="s" x1="2571" y1="3187" x2="2822" y2="3187"/><text class="c" x="2696.5" y="3153">std::set&lt; BDSGeometryComponent * &gt;</text></g>
<g id="samplertypes_def"><rect class="b" x="3810" y="3137" width="125" height="75"/><line class="s" x1="3810" y1="3162" x2="3935" y2="3162"/><line class="s" x1="3810" y1="3187" x2="3935" y2="3187"/><text class="c" x="3872.5" y="3153">samplertypes_def</text></g>

<g id="BDSBeamlineElement"><rect class="b" x="1732" y="3863" width="253" height="912.9"/><line class="s" x1="1732" y1="3888" x2="1985" y2="3888"/><line class="s" x1="1732" y1="4207" x2="1985" y2="4207"/><text class="c" x="1858.5" y="3879">BDSBeamlineElement</text><text x="1742" y="3904">- placementName<tspan x="1742" dy="14.7">- copyNumber</tspan><tspan x="1742" dy="14.7">- placementTransform</tspan><tspan x="1742" dy="14.7">- placementTransformCL</tspan><tspan x="1742" dy="14.7">- samplerPlacementTransform</tspan><tspan x="1742" dy="14.7">- index</tspan><tspan x="1742" dy="14.7">- positionStart</tspan><tspan x="1742" dy="14.7">- positionMiddle</tspan><tspan x="1742" dy="14.7">- positionEnd</tspan><tspan x="1742" dy="14.7">- rotationStart</tspan><tspan x="1742" dy="14.7">- rotationMiddle</tspan><tspan x="1742" dy="14.7">- rotationEnd</tspan><tspan x="1742" dy="14.7">- referencePositionStart</tspan><tspan x="1742" dy="14.7">- referencePositionMiddle</tspan><tspan x="1742" dy="14.7">- referencePositionEnd</tspan><tspan x="1742" dy="14.7">- referenceRotationStart</tspan><tspan x="1742" dy="14.7">- referenceRotationMiddle</tspan><tspan x="1742" dy="14.7">- referenceRotationEnd</tspan><tspan x="1742" dy="14.7">- sPositionStart</tspan><tspan x="1742" dy="14.7">- sPositionMiddle</tspan><tspan x="1742" dy="14.7">- sPositionEnd</tspan></text><text x="1742" y="4223">+ BDSBeamlineElement()<tspan x="1742" dy="14.7">+ BDSBeamlineElement()</tspan><tspan x="1742" dy="14.7">+ operator=()</tspan><tspan x="1742" dy="14.7">+ BDSBeamlineElement()</tspan><tspan x="1742" dy="14.7">+ ~BDSBeamlineElement()</tspan><tspan x="1742" dy="14.7">+ PlaceElement()</tspan><tspan x="1742" dy="14.7">+ GetExtentGlobal()</tspan><tspan x="1742" dy="14.7">+ GetTilt()</tspan><tspan x="1742" dy="14.7">+ UpdateSamplerPlacementTransform()</tspan><tspan x="1742" dy="14.7">+ Overlaps()</tspan><tspan x="1742" dy="14.7">+ GetAcceleratorComponent()</tspan><tspan x="1742" dy="14.7">+ GetName()</tspan><tspan x="1742" dy="14.7">+ GetType()</tspan><tspan x="1742" dy="14.7">+ GetArcLength()</tspan><tspan x="1742" dy="14.7">+ GetChordLength()</tspan><tspan x="1742" dy="14.7">+ GetAngle()</tspan><tspan x="1742" dy="14.7">+ GetBeamPipeInfo()</tspan><tspan x="1742" dy="14.7">+ GetExtent()</tspan><tspan x="1742" dy="14.7">+ GetPlacementName()</tspan><tspan x="1742" dy="14.7">+ GetCopyNo()</tspan><tspan x="1742" dy="14.7">and 23 more...</tspan><tspan x="1742" dy="14.7">+ InputFaceNormal()</tspan><tspan x="1742" dy="14.7">+ OutputFaceNormal()</tspan><tspan x="1742" dy="14.7">+ AngledInputFace()</tspan><tspan x="1742" dy="14.7">+ AngledOutputFace()</tspan><tspan x="1742" dy="14.7">+ SetReferencePositionEnd()</tspan><tspan x="1742" dy="14.7">+ SetReferenceRotationEnd()</tspan><tspan x="1742" dy="14.7">+ GetPVsFromAssembly()</tspan><tspan x="1742" dy="14.7">* positionStart</tspan><tspan x="1742" dy="14.7">* positionMiddle</tspan><tspan x="1742" dy="14.7">* positionEnd</tspan><tspan x="1742" dy="14.7">* rotationStart</tspan><tspan x="1742" dy="14.7">* rotationMiddle</tspan><tspan x="1742" dy="14.7">* rotationEnd</tspan><tspan x="1742" dy="14.7">* referencePositionStart</tspan><tspan x="1742" dy="14.7">* referencePositionMiddle</tspan><tspan x="1742" dy="14.7">* referencePositionEnd</tspan><tspan x="1742" dy="14.7">* referenceRotationStart</tspan></text></g>

<g id="BDSSimpleComponent"><rect class="b" x="2009" y="4391" width="211" height="177.9"/><line class="s" x1="2009" y1="4416" x2="2220" y2="4416"/><line class="s" x1="2009" y1="4441" x2="2220" y2="4441"/><text class="c" x="2114.5" y="4407">BDSSimpleComponent</text><text x="2019" y="4457">+ BDSSimpleComponent()<tspan x="2019" dy="14.7">+ BDSSimpleComponent()</tspan><tspan x="2019" dy="14.7">+ ~BDSSimpleComponent()</tspan><tspan x="2019" dy="14.7">+ BDSSimpleComponent()</tspan><tspan x="2019" dy="14.7">+ operator=()</tspan><tspan x="2019" dy="14.7">+ BDSSimpleComponent()</tspan><tspan x="2019" dy="14.7"># Build()</tspan><tspan x="2019" dy="14.7"># BuildContainerLogicalVolume()</tspan></text></g>
</g>

<g id="connectors">
<path class="e" d="M1057,46 C700,60 380,80 260,125 C190,150 160,175 151,204"/>
<path class="e" d="M1057,48 C900,55 700,80 640,120 C580,150 550,180 540,204"/>
<path class="e" d="M1082,81 C1075,120 1045,170 1038,204"/>
<path class="e" d="M1126,81 C1140,130 1195,170 1204,204"/>
<path class="e" d="M1137,48 C1500,60 1880,100 1980,130 C2060,170 2050,300 2037,394"/>
<path class="p" d="M1137,46 C2000,75 3400,170 3650,220 C3700,232 3711,245 3711,260 L3711,3130"/>
<path class="e" d="M2133,368 C2128,430 2110,465 2040,478 C1890,500 1810,600 1802,760 C1799,900 1799,980 1799,1038"/>
<path class="e" d="M2179,368 C2178,600 2100,850 2077,1038"/>
<path class="e" d="M1565,308 L1564,861"/>
<path class="e" d="M1714,294 C1690,400 1620,560 1580,861"/>
<path class="e" d="M1880,308 C1845,420 1840,455 1790,475 C1640,530 1565,640 1556,861"/>
<path class="e" d="M104,308 C104,500 170,800 181,971"/>
<path class="e" d="M217,971 C220,700 215,450 144,308"/>
<path class="i" d="M219,971 C240,750 280,450 294,294"/>
<path class="e" d="M744,971 C745,800 730,600 640,510 C600,475 540,500 505,460 C485,420 483,360 483,308"/>
<path class="e" d="M522,308 C540,380 600,480 630,560 C680,720 712,880 720,971"/>
<path class="i" d="M730,971 C720,700 695,450 687,294"/>
<path class="i" d="M1012,971 C960,750 880,500 844,294"/>
<path class="e" d="M1016,971 C990,800 975,500 994,308"/>
<path class="e" d="M1018,308 C1025,500 1037,800 1037,971"/>
<path class="e" d="M1297,971 C1270,800 1240,500 1238,308"/>
<path class="e" d="M1262,308 C1280,500 1318,800 1320,971"/>
<path class="i" d="M1329,971 C1350,750 1400,500 1413,294"/>
<path class="e" d="M209,1193 C215,1400 260,1620 330,1730 C410,1850 540,1990 608,2050"/>
<path class="e" d="M470,1193 C475,1450 540,1600 620,1680 C700,1740 850,1770 960,1850 C1100,1950 1180,2010 1221,2045"/>
<path class="e" d="M759,1193 C800,1450 880,1640 1000,1780 C1100,1900 1180,1990 1221,2038"/>
<path class="e" d="M1060,1193 C1100,1450 1150,1650 1221,1872"/>
<path class="e" d="M1314,1193 L1314,1780"/>
<path class="e" d="M1514,1303 C1480,1500 1420,1700 1406,1780"/>
<path class="e" d="M1798,1127 C1790,1400 1740,1600 1660,1760 C1600,1880 1480,1990 1408,2040"/>
<path class="e" d="M1976,469 C1940,560 1922,800 1922,1200 C1925,1700 1950,2300 1959,2563"/>
<path class="e" d="M2064,1127 C2070,1450 2130,1620 2220,1760 C2320,1910 2480,2010 2586,2067"/>
<path class="e" d="M2285,1120 C2310,1350 2340,1600 2400,1730 C2460,1860 2530,1950 2586,1995"/>
<path class="e" d="M2276,1120 C2250,1350 2210,1650 2180,1850 C2130,2150 2080,2450 2070,2563"/>
<path class="e" d="M2491,1120 C2520,1400 2580,1650 2599,1787"/>
<path class="e" d="M2697,1120 L2698,1787"/>
<path class="e" d="M2929,1120 C2900,1400 2860,1650 2808,1820"/>
<path class="e" d="M3150,1120 C3130,1450 3060,1700 2980,1850 C2920,1950 2860,1990 2808,2015"/>
<path class="e" d="M3364,1120 C3360,1400 3320,1650 3200,1850 C3080,2000 2900,2050 2808,2075"/>
<path class="e" d="M3475,1652 C3380,1760 3250,1920 3100,2000 C3000,2060 2880,2085 2808,2100"/>
<path class="e" d="M2689,3137 C2660,2950 2630,2750 2642,2494"/>
<path class="e" d="M2724,2494 C2730,2750 2710,2950 2700,3137"/>
<path class="i" d="M2100,3015 L2586,2310"/>
<path class="e" d="M823,2245 C950,2340 1100,2440 1214,2500 C1500,2520 1800,2530 1860,2555 C1875,2562 1885,2568 1889,2575"/>
<path class="e" d="M1408,2205 C1600,2330 1820,2450 1889,2568"/>
<path class="e" d="M1796,3320 C1792,3550 1800,3750 1802,3863"/>
<path class="e" d="M1916,3784 L1910,3863"/>
<path class="e" d="M2093,4391 C2060,4200 2000,3950 1992,3784"/>
<path class="i" d="M2115,4391 C2115,4100 2105,3900 2095,3784"/>

<text x="344" y="117">+elements</text>
<text x="697" y="117">+elements</text>
<text x="1076" y="117">+elements</text>
<text x="1156" y="117">+elements</text>
<text x="1951" y="117">+elements</text>
<text x="112" y="434">#dictionary</text>
<text x="197" y="434">+keys</text>
<text x="524" y="434">+keys</text>
<text x="601" y="434">#dictionary</text>
<text x="980" y="434">+keys</text>
<text x="1029" y="434">#dictionary</text>
<text x="1241" y="434">+keys</text>
<text x="1301" y="434">#dictionary</text>
<text x="1569" y="434">-strengths</text>
<text class="c" x="1739" y="419.5">-keys</text>
<text class="c" x="1739" y="434.5">-normalComponentKeys</text>
<text class="c" x="1739" y="449.5">-skewComponentKeys</text>
<text x="1838" y="434">-unitsFactorsMap</text>
<text x="2129" y="434">+keys</text>
<text x="2181" y="434">+elements</text>
<text x="348" y="1727">+beamPipeType</text>
<text class="c" x="852" y="1720">-electricInterpolatorType</text>
<text class="c" x="852" y="1735">-magneticInterpolatorType</text>
<text x="966" y="1727">-integratorType</text>
<text class="c" x="1245" y="1720">-electricFieldFormat</text>
<text class="c" x="1245" y="1735">-magneticFieldFormat</text>
<text x="1319" y="1727">-fieldType</text>
<text x="1428" y="1727">-magnetStrength</text>
<text class="c" x="1748" y="1705.5">-electricArrayReflection</text>
<text class="c" x="1748" y="1720.5">TypeSet</text>
<text class="c" x="1748" y="1735.5">-magneticArrayReflection</text>
<text class="c" x="1748" y="1749.5">TypeSet</text>
<text x="1928" y="1720">-biasMaterialList</text>
<text x="1927" y="1735">-biasVacuumList</text>
<text x="2226" y="1727">#sensitivity</text>
<text class="c" x="2499" y="1720">#allLogicalVolumes</text>
<text class="c" x="2499" y="1735">#lvsExcludedFromBiasing</text>
<text x="2600" y="1727">#allSolids</text>
<text x="2702" y="1727">#allPhysicalVolumes</text>
<text x="2844" y="1727">#allRotationMatrices</text>
<text x="3035" y="1727">#allVisAttributes</text>
<text x="3242" y="1727">#allUserLimits</text>
<text x="3437" y="1720">#innerExtent</text>
<text x="3435" y="1735">#outerExtent</text>
<text x="2175" y="2141">#acceleratorVacuumLV</text>
<text x="3716" y="2141">+elements</text>
<text x="1698" y="2534">#beamPipeInfo</text>
<text x="1854" y="2534">#fieldInfo</text>
<text x="2644" y="2535">#allDaughters</text>
<text x="2729" y="2535">+keys</text>
<text x="1805" y="3826">-tiltOffset</text>
<text x="1918" y="3826">-component</text>
<text x="2003" y="3819">#endPieceAfter</text>
<text x="1996" y="3833">#endPieceBefore</text>
</g>
</svg>
